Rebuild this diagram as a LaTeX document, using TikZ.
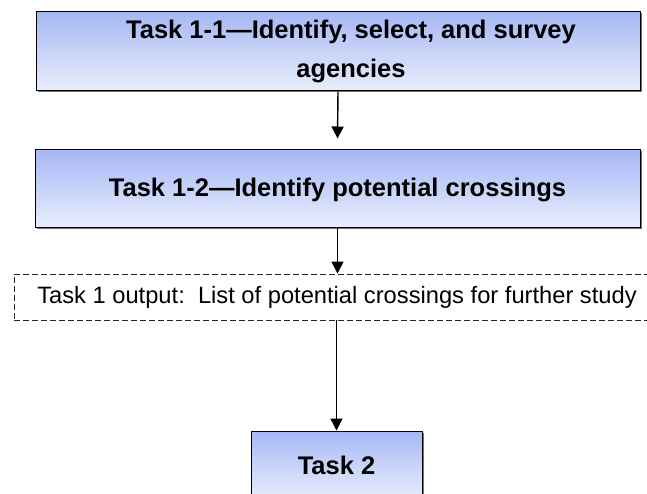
\documentclass[tikz,border=0pt]{standalone}
\usepackage{fontspec}
\setmainfont{Liberation Sans}
\usetikzlibrary{arrows.meta,shadows}
\definecolor{boxtop}{RGB}{166,184,244}
\definecolor{boxbot}{RGB}{233,238,252}
\tikzset{
  taskbox/.style={draw=black, line width=1pt, top color=boxtop, bottom color=boxbot,
    drop shadow={shadow xshift=1.5pt, shadow yshift=-1.5pt, fill=black!55, opacity=1},
    inner sep=0pt},
  tasktext/.style={font=\bfseries\fontsize{25.5}{39}\selectfont, align=center, inner sep=0pt},
  outbox/.style={draw=black!85, dash pattern=on 6pt off 3pt, line width=0.9pt, inner sep=0pt,
    font=\fontsize{23.7}{28}\selectfont},
  flow/.style={line width=1.4pt, -{Triangle[length=12pt,width=12pt]}},
}
\begin{document}
\begin{tikzpicture}[x=1pt,y=-1pt]
\useasboundingbox (0,0) rectangle (647,494);
\clip (0,0) rectangle (647,494);
% first sub-task
\node[taskbox, minimum width=604pt, minimum height=79pt] (t11) at (338,51.5) {};
\node[tasktext] (t11text) at (351,51.5) {Task 1-1—Identify, select, and survey\\agencies};
% second sub-task
\node[taskbox, minimum width=605pt, minimum height=78pt] (t12) at (337.5,189) {};
\node[tasktext] (t12text) at (337.5,190) {Task 1-2—Identify potential crossings};
% output of task 1 (dashed, runs off the right edge)
\node[outbox, minimum width=646pt, minimum height=46pt] (out) at (337,297)
  {Task 1 output:\ \ List of potential crossings for further study};
% next task
\node[taskbox, minimum width=171pt, minimum height=68pt] (t2) at (336.5,465) {};
\node[tasktext] (t2text) at (336.5,465) {Task 2};
% connectors
\draw[flow] (t11.south) -- ([yshift=11pt]t12.north);
\draw[flow] (t12.south) -- (t12.south |- out.north);
\draw[flow] (out.south -| t2.north) -- (t2.north);
\end{tikzpicture}
\end{document}
